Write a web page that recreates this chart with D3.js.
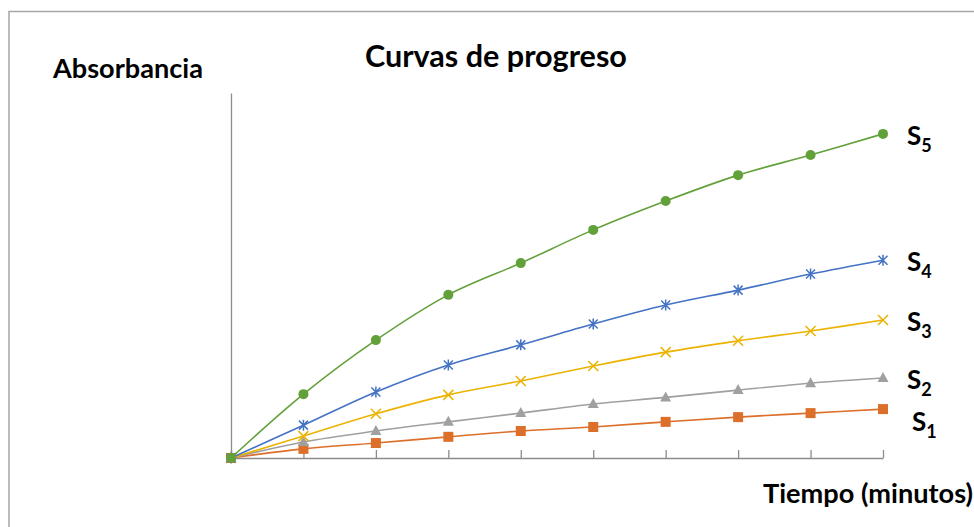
<!DOCTYPE html>
<html lang="es">
<head>
<meta charset="utf-8">
<title>Curvas de progreso</title>
<script src="https://cdn.jsdelivr.net/npm/d3@7"></script>
<style>
  body { margin: 0; background: #fff; }
  text { font-family: Lato, "Open Sans", sans-serif; font-weight: bold; fill: #000; }
</style>
</head>
<body>
<script>
// time points (minutes) and absorbance readings
var tiempos = [0, 1, 2, 3, 4, 5, 6, 7, 8, 9];
var s1 = [0, 0.025, 0.041, 0.058, 0.074, 0.085, 0.099, 0.112, 0.123, 0.134];
var s2 = [0, 0.044, 0.074, 0.099, 0.123, 0.148, 0.166, 0.186, 0.205, 0.219];
var s3 = [0, 0.060, 0.121, 0.173, 0.211, 0.252, 0.290, 0.321, 0.348, 0.378];
var s4 = [0, 0.090, 0.181, 0.255, 0.310, 0.367, 0.419, 0.460, 0.504, 0.542];
var s5 = [0, 0.175, 0.323, 0.447, 0.534, 0.625, 0.704, 0.775, 0.830, 0.888];
var nombres = ["1", "2", "3", "4", "5"];

var w = 974, h = 527;
var colores = ["#dc6f2a", "#a0a0a0", "#ebb300", "#4472c4", "#62a03a"];
var series = [s1, s2, s3, s4, s5].map(function(v, i) {
  return { name: nombres[i], values: v, color: colores[i], marker: i };
});

var x = d3.scaleLinear().domain([0, 9]).range([231, 883]);
var y = d3.scaleLinear().domain([0, 1]).range([458, 93]);

var svg = d3.select("body").append("svg")
  .attr("width", w)
  .attr("height", h);

// chart border (runs off the right and bottom edge)
svg.append("rect")
  .attr("x", 9).attr("y", 11.5)
  .attr("width", 1000).attr("height", 600)
  .attr("fill", "none")
  .attr("stroke", "#a6a6a6")
  .attr("stroke-width", 1.5);

// axes
svg.append("g")
  .attr("transform", "translate(0," + y(0) + ")")
  .call(d3.axisBottom(x).tickValues(tiempos).tickSize(-8).tickSizeOuter(0).tickFormat(""));
svg.append("g")
  .attr("transform", "translate(" + x(0) + ",0)")
  .call(d3.axisLeft(y).tickValues([]).tickSizeOuter(0));
svg.selectAll(".domain, .tick line")
  .attr("stroke", "#8c8c8c")
  .attr("stroke-width", 1.3);

var line = d3.line()
  .x(function(d, i) { return x(tiempos[i]); })
  .y(function(d) { return y(d); })
  .curve(d3.curveCatmullRom.alpha(0.5));

// marker shapes, Excel style
function markerPath(k) {
  if (k === 0) return "M-5,-5H5V5H-5Z";
  if (k === 1) return "M0,-6L5.5,4H-5.5Z";
  if (k === 2) return "M-5,-5L5,5M-5,5L5,-5";
  if (k === 3) return "M-4.5,-4.5L4.5,4.5M-4.5,4.5L4.5,-4.5M0,-5.5V5.5";
  return d3.arc()({ innerRadius: 0, outerRadius: 5, startAngle: 0, endAngle: 2 * Math.PI });
}

series.forEach(function(s) {
  var g = svg.append("g");
  g.append("path")
    .attr("d", line(s.values))
    .attr("fill", "none")
    .attr("stroke", s.color)
    .attr("stroke-width", 1.6);

  var filled = s.marker === 0 || s.marker === 1 || s.marker === 4;
  g.selectAll("path.m")
    .data(s.values)
    .enter()
    .append("path")
    .attr("class", "m")
    .attr("transform", function(d, i) { return "translate(" + x(tiempos[i]) + "," + y(d) + ")"; })
    .attr("d", markerPath(s.marker))
    .attr("fill", filled ? s.color : "none")
    .attr("stroke", s.color)
    .attr("stroke-width", filled ? 0 : 1.5);
});

// series labels at the end of each curve, pushed down so they don't collide
var prevY = -Infinity;
series.slice().reverse().forEach(function(s) {
  var ly = Math.max(y(s.values[s.values.length - 1]) + 11, prevY + 42);
  var shifted = ly > y(s.values[s.values.length - 1]) + 11;
  prevY = ly;
  var t = svg.append("text")
    .attr("x", shifted ? 912 : 907)
    .attr("y", ly)
    .attr("font-size", 26);
  t.append("tspan").text("S");
  t.append("tspan").attr("font-size", 18).attr("dy", 7).text(s.name);
});

// fit text to the width it has in the picture
function fit(t, width) {
  var size = +t.attr("font-size");
  var len = t.node().getComputedTextLength();
  t.attr("font-size", size * width / len);
}

fit(svg.append("text")
  .attr("x", 53).attr("y", 78)
  .attr("font-size", 22)
  .text("Absorbancia"), 150);

fit(svg.append("text")
  .attr("x", 365).attr("y", 67)
  .attr("font-size", 24)
  .text("Curvas de progreso"), 262);

fit(svg.append("text")
  .attr("x", 763).attr("y", 503)
  .attr("font-size", 22)
  .text("Tiempo (minutos)"), 210);
</script>
</body>
</html>
